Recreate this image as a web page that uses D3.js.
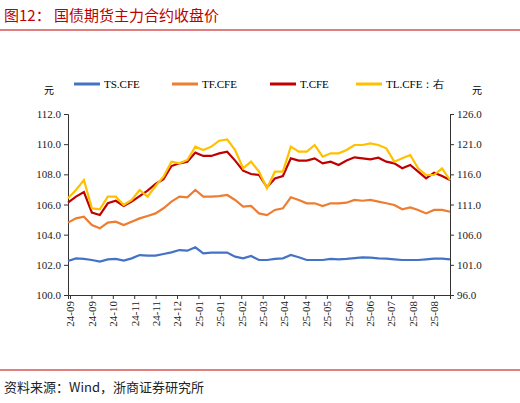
<!DOCTYPE html>
<html lang="en">
<head>
<meta charset="UTF-8">
<title>国债期货主力合约收盘价</title>
<script src="https://d3js.org/d3.v7.min.js"></script>
<style>
    body { margin: 0; background: #fff; }
    text { font-family: "Liberation Serif", serif; }
    .cn { font-family: "Noto Sans CJK SC", sans-serif; }
</style>
</head>
<body>
<div id="chart"></div>
<script>
    // tick labels along the bottom, with their position in the sample index
    const tickLabels = ["24-09","24-09","24-10","24-11","24-11","24-12","25-01","25-01","25-02",
        "25-03","25-04","25-04","25-05","25-06","25-06","25-07","25-08","25-08"];
    const tickIndex = tickLabels.map((d, k) => 0.25 + 2.69 * k);

    const tsValues = [102.25,102.43,102.39,102.32,102.21,102.36,102.39,102.28,102.43,102.65,102.61,102.61,102.72,
        102.83,102.98,102.94,103.16,102.76,102.81,102.81,102.81,102.54,102.43,102.59,102.32,102.32,102.39,102.43,
        102.65,102.50,102.32,102.32,102.32,102.39,102.36,102.39,102.45,102.50,102.48,102.43,102.41,102.36,102.32,
        102.32,102.32,102.36,102.41,102.41,102.36];
    const tfValues = [104.80,105.08,105.19,104.64,104.42,104.80,104.86,104.64,104.86,105.08,105.24,105.41,105.75,
        106.19,106.52,106.48,106.96,106.52,106.52,106.56,106.63,106.30,105.86,105.90,105.41,105.30,105.64,105.75,
        106.48,106.30,106.08,106.08,105.90,106.08,106.08,106.12,106.30,106.25,106.30,106.19,106.08,105.97,105.68,
        105.81,105.64,105.41,105.64,105.64,105.52];
    const tValues = [106.12,106.52,106.83,105.46,105.30,106.08,106.25,105.90,106.19,106.56,106.92,107.36,107.67,
        108.55,108.73,108.84,109.44,109.22,109.22,109.39,109.50,108.91,108.24,108.02,107.96,107.14,107.73,107.89,
        109.06,108.91,108.91,109.06,108.73,108.84,108.62,108.91,109.13,109.06,108.99,109.10,108.84,108.73,108.40,
        108.62,108.18,107.73,108.11,107.89,107.62];
    // TL is on the right axis
    const tlValues = [112.02,113.40,115.06,110.36,110.20,112.30,112.30,110.92,111.75,113.40,112.30,114.07,115.61,
        118.10,117.82,118.38,120.59,120.03,120.59,121.58,121.80,120.03,117.00,118.10,116.44,113.68,116.44,116.44,
        120.59,119.76,119.76,120.86,118.93,119.48,119.48,120.03,120.86,120.86,121.14,120.86,120.31,118.10,118.65,
        119.20,117.00,115.89,115.89,117.00,115.06];

    const seriesNames = ["TS.CFE", "TF.CFE", "T.CFE", "TL.CFE：右"];
    const colors = ["#4472C4", "#ED7D31", "#C00000", "#FFC000"];

    const W = 520, H = 403;
    const margin = { top: 114, right: 70, bottom: 108, left: 68 };
    const width = W - margin.left - margin.right,
        height = H - margin.top - margin.bottom;

    const svg = d3.select("#chart").append("svg").attr("width", W).attr("height", H);

    // title and rules
    svg.append("text").attr("class", "cn").attr("x", 4).attr("y", 21)
        .style("font-size", "15px").attr("fill", "#C00000").text("图12：  国债期货主力合约收盘价");
    svg.append("line").attr("x1", 0).attr("x2", W).attr("y1", 30).attr("y2", 30)
        .attr("stroke", "#C00000").attr("stroke-width", 1.2);
    svg.append("line").attr("x1", 0).attr("x2", W).attr("y1", 370).attr("y2", 370)
        .attr("stroke", "#C00000").attr("stroke-width", 1);
    svg.append("text").attr("class", "cn").attr("x", 4).attr("y", 392)
        .style("font-size", "13px").attr("fill", "#222").text("资料来源：Wind，浙商证券研究所");

    const g = svg.append("g").attr("transform", `translate(${margin.left},${margin.top})`);

    const x = d3.scaleLinear().domain([0, tsValues.length - 1]).range([0, width]);
    const yL = d3.scaleLinear().domain([100, 112]).range([height, 0]);
    const yR = d3.scaleLinear().domain([96, 126]).range([height, 0]);

    // axes
    const axL = g.append("g").call(d3.axisLeft(yL).tickValues(d3.range(100, 112.01, 2)).tickFormat(d3.format(".1f")).tickSize(4));
    const axR = g.append("g").attr("transform", `translate(${width},0)`)
        .call(d3.axisRight(yR).tickValues(d3.range(96, 126.01, 5)).tickFormat(d3.format(".1f")).tickSize(4));
    const axB = g.append("g").attr("transform", `translate(0,${height})`)
        .call(d3.axisBottom(x).tickValues(tickIndex).tickFormat((d, i) => tickLabels[i]).tickSize(4));
    [axL, axR, axB].forEach(a => {
        a.selectAll("path,line").attr("stroke", "#333");
        a.selectAll("text").style("font-size", "11px").attr("fill", "#222");
    });
    axL.selectAll("text").attr("x", -7);
    axR.selectAll("text").attr("x", 7);
    axB.selectAll("text").attr("transform", "rotate(-90)")
        .attr("text-anchor", "end").attr("x", -6).attr("y", 0).attr("dy", "0.35em");

    // unit labels
    svg.append("text").attr("class", "cn").attr("x", 44).attr("y", 94).style("font-size", "10px").text("元");
    svg.append("text").attr("class", "cn").attr("x", 472).attr("y", 94).style("font-size", "10px").text("元");

    // lines
    const all = [tsValues, tfValues, tValues, tlValues];
    all.forEach((vals, s) => {
        const y = s === 3 ? yR : yL;
        g.append("path").datum(vals)
            .attr("fill", "none").attr("stroke", colors[s]).attr("stroke-width", 2.2)
            .attr("d", d3.line().x((d, i) => x(i)).y(d => y(d)));
    });
    // draw T above TL like reference? keep TL on top as in picture

    // legend
    const legX = [74, 172, 270, 356];
    seriesNames.forEach((n, i) => {
        const lg = svg.append("g").attr("transform", `translate(${legX[i]},84)`);
        lg.append("line").attr("x1", 0).attr("x2", 26).attr("stroke", colors[i]).attr("stroke-width", 3);
        lg.append("text").attr("x", 30).attr("y", 4).style("font-size", "11px")
            .attr("class", i === 3 ? "" : "").text(n);
    });
</script>
</body>
</html>
